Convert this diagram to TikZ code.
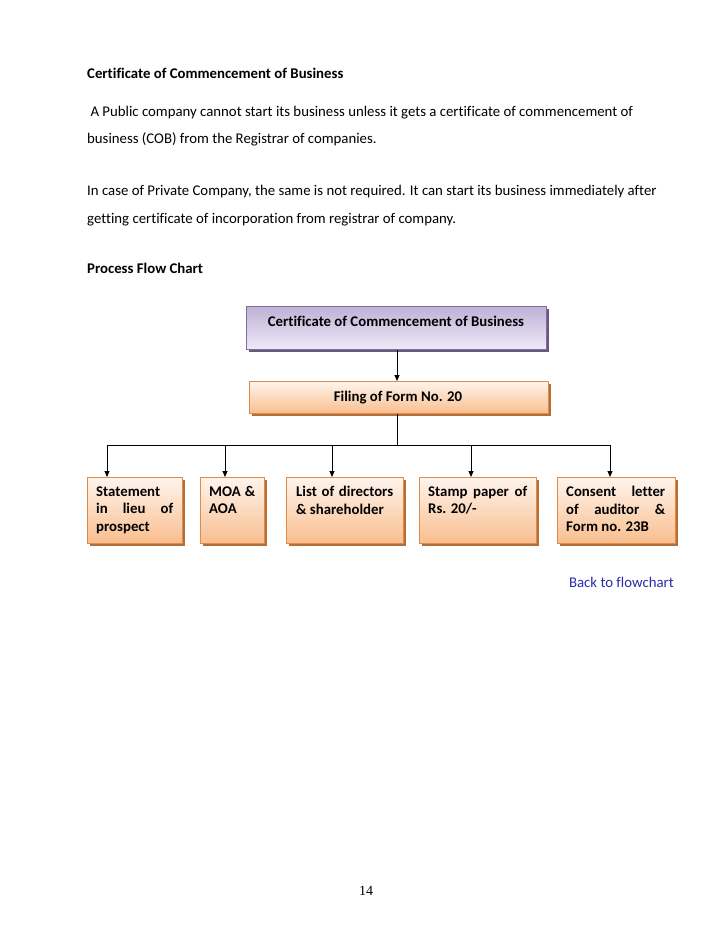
\documentclass[tikz,border=0pt]{standalone}
\usepackage{fontspec}
\setmainfont{Carlito}[Ligatures=NoCommon]
\newfontfamily\numfont{Liberation Serif}
\usetikzlibrary{arrows.meta}
\definecolor{purtop}{HTML}{BFB1D8}
\definecolor{purbot}{HTML}{EEEAF5}
\definecolor{purline}{HTML}{7F6F9F}
\definecolor{ortop}{HTML}{FFF4EC}
\definecolor{orbot}{HTML}{F9BE8E}
\definecolor{orline}{HTML}{E08A48}
\definecolor{linkblue}{HTML}{2B2BA8}
\begin{document}
\begin{tikzpicture}[x=1pt,y=-1pt,
  bodytext/.style={anchor=base west, inner sep=0pt, font=\fontsize{14.8}{17}\selectfont},
  purbox/.style={draw=purline, line width=0.8pt, top color=purtop, bottom color=purbot,
     inner sep=0pt, anchor=north west},
  orbox/.style={draw=orline, line width=0.8pt, top color=ortop, bottom color=orbot,
     inner sep=0pt, anchor=north west},
  shadowbox/.style={fill=#1, draw=none},
  boxtext/.style={font=\bfseries\fontsize{14.8}{17.5}\selectfont, align=justify, anchor=north west, inner sep=0pt},
  conn/.style={line width=0.9pt, black},
  arr/.style={conn, -{Triangle[length=6pt,width=5pt]}}
]
\useasboundingbox (0,0) rectangle (728,943);
\fill[white] (0,0) rectangle (728,943);

% text
\node[bodytext] (title) at (87,78) {\bfseries Certificate of Commencement of Business};
\node[bodytext] (p1) at (87,116) {\ A Public company cannot start its business unless it gets a certificate of commencement of};
\node[bodytext] (p2) at (87,143) {business (COB) from the Registrar of companies.};
\node[bodytext] (p3) at (87,195) {In case of Private Company, the same is not required. It can start its business immediately after};
\node[bodytext] (p4) at (87,223) {getting certificate of incorporation from registrar of company.};
\node[bodytext] (pfc) at (87,273) {\bfseries Process Flow Chart};

% top box
\fill[shadowbox=purline!80!black] (249,309) rectangle (549,352);
\node[purbox, minimum width=300, minimum height=43] (cert) at (246,306) {};
\node[anchor=base, font=\bfseries\fontsize{14.8}{17}\selectfont, inner sep=0pt] (certtxt) at (396,326) {Certificate of Commencement of Business};

% filing box
\fill[shadowbox=orline!80!black] (252,384) rectangle (551,416);
\node[orbox, minimum width=299, minimum height=32] (filing) at (249,381) {};
\node[anchor=base, font=\bfseries\fontsize{14.8}{17}\selectfont, inner sep=0pt] (filtxt) at (398,401) {Filing of Form No. 20};

% small boxes
\foreach \nm/\x/\w in {b1/87/95, b2/200/64, b3/286/117, b4/419/117, b5/557/118}{
  \fill[shadowbox=orline!80!black] (\x+3,480) rectangle (\x+\w+3,546);
  \node[orbox, minimum width=\w, minimum height=66] (\nm) at (\x,477) {};
}
\node[boxtext, text width=77] (t1) at (96,486.5) {Statement\linebreak in lieu of\linebreak prospect};
\node[boxtext, text width=46] (t2) at (209,486) {MOA \&\linebreak AOA};
\node[boxtext, text width=97] (t3) at (296,486) {List of directors\linebreak \& shareholder};
\node[boxtext, text width=99] (t4) at (428,486) {Stamp paper of\linebreak Rs. 20/-};
\node[boxtext, text width=99] (t5) at (566,486) {Consent letter\linebreak of auditor \&\linebreak Form no. 23B};

% connectors
\draw[arr] (cert.south -| 397,0) -- (filing.north -| 397,0);
\coordinate (hub) at (397,445);
\coordinate (hl) at (107,445);
\coordinate (hr) at (610,445);
\draw[conn] (filing.south -| hub) -- (hub);
\draw[conn] (hl) -- (hr);
\draw[arr] (hl) -- (b1.north -| hl);
\draw[arr] (225,445) -- (b2.north -| 225,0);
\draw[arr] (332,445) -- (b3.north -| 332,0);
\draw[arr] (471,445) -- (b4.north -| 471,0);
\draw[arr] (hr) -- (b5.north -| hr);

\node[anchor=base east, inner sep=0pt, text=linkblue, font=\fontsize{14.8}{17}\selectfont] (back) at (674,587) {Back to flowchart};
\node[anchor=base, inner sep=0pt, font=\numfont\fontsize{14}{16}\selectfont] (pg) at (366,895) {14};
\end{tikzpicture}
\end{document}
